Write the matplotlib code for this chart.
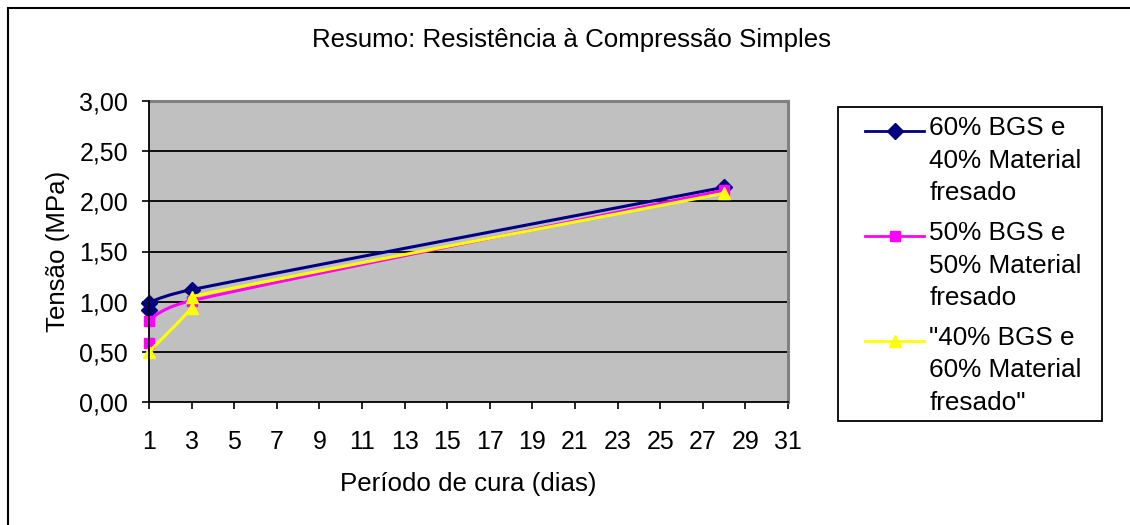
import numpy as np
import matplotlib
matplotlib.use("Agg")
import matplotlib.pyplot as plt
from matplotlib.path import Path
from matplotlib.patches import PathPatch, Rectangle
from matplotlib.lines import Line2D
from matplotlib.legend_handler import HandlerLine2D

plt.rcParams['font.family'] = ['Liberation Sans', 'DejaVu Sans']

# ---------------- data ----------------
title = "Resumo: Resistência à Compressão Simples"
xlabel = "Período de cura (dias)"
ylabel = "Tensão (MPa)"

xticks = list(range(1, 32, 2))
yticks = [0.0, 0.5, 1.0, 1.5, 2.0, 2.5, 3.0]
ytick_labels = ["0,00", "0,50", "1,00", "1,50", "2,00", "2,50", "3,00"]

label_60 = "60% BGS e\n40% Material\nfresado"
label_50 = "50% BGS e\n50% Material\nfresado"
label_40 = "\"40% BGS e\n60% Material\nfresado\""

dias_60 = [1, 1, 3, 28]
tensao_60 = [0.92, 0.99, 1.12, 2.14]

dias_50 = [1, 1, 3, 28]
tensao_50 = [0.59, 0.81, 1.01, 2.11]

dias_40 = [1, 3, 3, 28]
tensao_40 = [0.50, 0.94, 1.05, 2.08]

# ---------------- style ----------------
FS = 18
FS_TXT = 18.6
FS_LEG = 18.8
c60, c50, c40 = "#000080", "#FF00FF", "#FFFF00"

W, H = 1130, 525
fig = plt.figure(figsize=(W / 100, H / 100), dpi=100)
fig.patch.set_facecolor("white")

L, R, T, B = 149, 788, 101, 402
ax = fig.add_axes([L / W, 1 - B / H, (R - L) / W, (B - T) / H])
ax.set_facecolor("#C0C0C0")
ax.set_xlim(1, 31)
ax.set_ylim(0, 3)

# pixel-per-unit scale used for the Excel-like smoothed line rendering
SX = (R - L) / 30.0
SY = (B - T) / 3.0


def smooth_path(x, y):
    P = np.column_stack([np.asarray(x, float) * SX, np.asarray(y, float) * SY])
    n = len(P)
    verts = [P[0]]
    codes = [Path.MOVETO]
    for i in range(n - 1):
        p0 = P[i - 1] if i > 0 else P[i]
        p1, p2 = P[i], P[i + 1]
        p3 = P[i + 2] if i + 2 < n else P[i + 1]
        d02 = np.linalg.norm(p2 - p0)
        d12 = np.linalg.norm(p2 - p1)
        d13 = np.linalg.norm(p3 - p1)
        f0 = 1 / 6 if d02 / 6 < d12 / 2 else (d12 / 2) / max(d02, 1e-9)
        f1 = 1 / 6 if d13 / 6 < d12 / 2 else (d12 / 2) / max(d13, 1e-9)
        c1 = p1 + (p2 - p0) * f0
        c2 = p2 - (p3 - p1) * f1
        verts += [c1, c2, p2]
        codes += [Path.CURVE4] * 3
    verts = np.array(verts) / np.array([SX, SY])
    return Path(verts, codes)


class TopLineHandler(HandlerLine2D):
    """Legend handle aligned with the first line of a multi-line label."""

    def __init__(self, shift, **kw):
        super().__init__(**kw)
        self.shift = shift

    def create_artists(self, *args, **kwargs):
        arts = super().create_artists(*args, **kwargs)
        for a in arts:
            a.set_ydata(np.asarray(a.get_ydata()) + self.shift)
        return arts


# gridlines
for yv in yticks[1:-1]:
    ax.axhline(yv, color="black", lw=1.3, zorder=1)

series = [
    (dias_60, tensao_60, c60, "D", 8, label_60),
    (dias_50, tensao_50, c50, "s", 7.5, label_50),
    (dias_40, tensao_40, c40, "^", 9, label_40),
]
handles = []
for k, (xs, ys, col, mk, ms, lab) in enumerate(series):
    z = 3 + 2 * k
    ax.add_patch(PathPatch(smooth_path(xs, ys), facecolor="none", edgecolor=col,
                           lw=2.2, zorder=z, capstyle="round", joinstyle="round"))
    ax.plot(xs, ys, ls="none", marker=mk, ms=ms, color=col, mec=col, zorder=z + 1,
            clip_on=False)
    handles.append(Line2D([], [], color=col, lw=2, marker=mk, ms=ms, mec=col))

# spines
for s in ["top", "right"]:
    ax.spines[s].set_color("#808080")
    ax.spines[s].set_linewidth(2.2)
for s in ["left", "bottom"]:
    ax.spines[s].set_color("black")
    ax.spines[s].set_linewidth(1.3)
    ax.spines[s].set_zorder(10)

ax.set_xticks(xticks)
ax.set_xticklabels([str(v) for v in xticks], fontsize=FS)
ax.set_yticks(yticks)
ax.set_yticklabels(ytick_labels, fontsize=FS)
ax.tick_params(axis="both", direction="out", length=5, width=1.2, color="black")
ax.tick_params(axis="x", pad=15)
ax.tick_params(axis="y", pad=10)

ax.set_xlabel(xlabel, fontsize=FS_TXT, labelpad=13)
ax.set_ylabel(ylabel, fontsize=FS_TXT, labelpad=7)

fig.text(571 / W, 1 - 40 / H, title, fontsize=FS_TXT, ha="center", va="center")

# legend frame + legend
fig.patches.append(Rectangle((838 / W, 1 - 421 / H), (1102 - 838) / W, (421 - 107) / H,
                             transform=fig.transFigure, facecolor="white",
                             edgecolor="black", lw=1.3, zorder=1))
leg = fig.legend(handles, [label_60, label_50, label_40],
                 loc="upper left", bbox_to_anchor=(860 / W, 1 - 111 / H),
                 fontsize=FS_LEG, frameon=False,
                 borderpad=0.2, handlelength=2.25, handletextpad=0.2,
                 labelspacing=0.6, borderaxespad=0, numpoints=1,
                 handler_map={Line2D: TopLineHandler(shift=30 * 0.72)})
for t in leg.get_texts():
    t.set_linespacing(1.45)
leg.set_zorder(5)

# outer chart border (only top/left visible in the reference)
fig.patches.append(Rectangle((8 / W, -0.5), 2.0, 1.5 - 8 / H, transform=fig.transFigure,
                             facecolor="none", edgecolor="black", lw=1.5, zorder=0))

fig.savefig("out.png", dpi=100, facecolor="white")
